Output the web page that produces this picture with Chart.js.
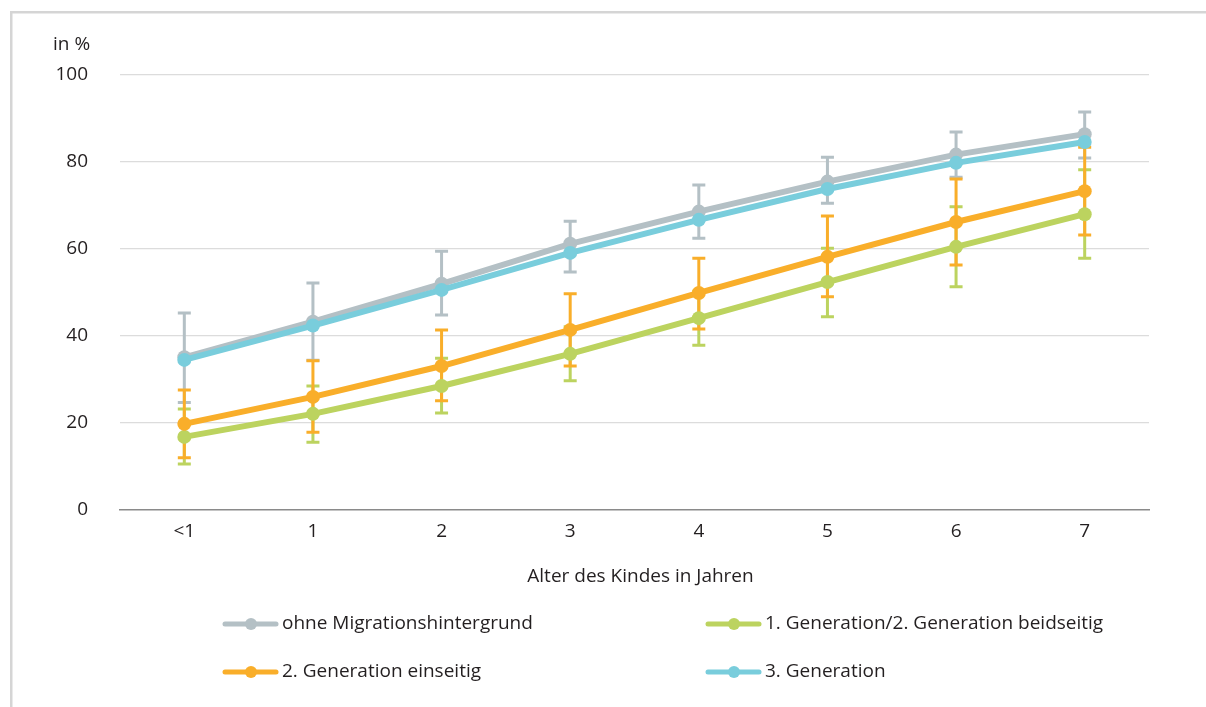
<!DOCTYPE html>
<html>
<head>
<meta charset="utf-8">
<script src="https://cdn.jsdelivr.net/npm/chart.js@4/dist/chart.umd.min.js"></script>
<style>
  html, body { margin: 0; padding: 0; background: #fff; }
  #wrap { position: relative; width: 1206px; height: 707px; }
  canvas { display: block; }
</style>
</head>
<body>
<div id="wrap"><canvas id="c" width="1206" height="707"></canvas></div>
<script>
// ---- data ----
const categories = ['<1', '1', '2', '3', '4', '5', '6', '7'];
const yTicks = [0, 20, 40, 60, 80, 100];

const ohneLabel = 'ohne Migrationshintergrund';
const ohneValues = [35.1, 43.3, 52.0, 61.2, 68.6, 75.5, 81.7, 86.4];
const ohneLow    = [24.7, 34.4, 44.8, 54.7, 62.5, 70.5, 76.5, 80.9];
const ohneHigh   = [45.3, 52.2, 59.5, 66.4, 74.7, 81.1, 86.9, 91.5];

const gen1Label = '1. Generation/2. Generation beidseitig';
const gen1Values = [16.8, 22.1, 28.5, 35.9, 44.1, 52.4, 60.5, 68.0];
const gen1Low    = [10.6, 15.6, 22.3, 29.7, 37.9, 44.4, 51.3, 57.9];
const gen1High   = [23.2, 28.5, 34.9, 42.1, 50.3, 60.2, 69.7, 78.2];

const gen2Label = '2. Generation einseitig';
const gen2Values = [19.8, 26.0, 33.1, 41.4, 49.9, 58.2, 66.2, 73.3];
const gen2Low    = [12.0, 17.9, 25.1, 33.1, 41.6, 49.0, 56.3, 63.2];
const gen2High   = [27.6, 34.3, 41.4, 49.7, 57.9, 67.6, 76.1, 83.4];

const gen3Label = '3. Generation';
const gen3Values = [34.5, 42.4, 50.6, 59.1, 66.7, 73.8, 79.8, 84.6];

const yUnit = 'in %';
const xTitle = 'Alter des Kindes in Jahren';

// ---- styles ----
const FONT = "'Open Sans', 'Noto Sans', sans-serif";
const FS = 19;
const TEXT = '#231f20';
const cGray = '#b4c0c5', cGreen = '#bcd35f', cOrange = '#f9ae2a', cBlue = '#79cddc';

function ds(label, data, color, order, low, high) {
  return {
    label, data, order,
    borderColor: color, backgroundColor: color,
    pointBackgroundColor: color, pointBorderWidth: 0,
    pointRadius: 7, pointHoverRadius: 7,
    borderWidth: 6, tension: 0, fill: false,
    errLow: low, errHigh: high
  };
}

const datasets = [
  ds(ohneLabel, ohneValues, cGray, 1, ohneLow, ohneHigh),
  ds(gen1Label, gen1Values, cGreen, 3, gen1Low, gen1High),
  ds(gen2Label, gen2Values, cOrange, 2, gen2Low, gen2High),
  ds(gen3Label, gen3Values, cBlue, 0, null, null)
];

// error bars drawn below lines: gray, green, orange (orange on top)
const errorBarPlugin = {
  id: 'errorBars',
  beforeDatasetsDraw(chart) {
    const ctx = chart.ctx, x = chart.scales.x, y = chart.scales.y;
    [0, 1, 2].forEach(di => {
      const d = chart.data.datasets[di];
      if (!d.errLow) return;
      ctx.save();
      ctx.strokeStyle = d.borderColor;
      ctx.lineWidth = 3;
      ctx.lineCap = 'butt';
      d.data.forEach((v, i) => {
        const px = x.getPixelForValue(i);
        const y1 = y.getPixelForValue(d.errLow[i]);
        const y2 = y.getPixelForValue(d.errHigh[i]);
        ctx.beginPath();
        ctx.moveTo(px, y1); ctx.lineTo(px, y2);
        ctx.moveTo(px - 6.5, y1); ctx.lineTo(px + 6.5, y1);
        ctx.moveTo(px - 6.5, y2); ctx.lineTo(px + 6.5, y2);
        ctx.stroke();
      });
      ctx.restore();
    });
  }
};

const decorPlugin = {
  id: 'decor',
  beforeDraw(chart) {
    const ctx = chart.ctx;
    ctx.save();
    ctx.fillStyle = '#fff';
    ctx.fillRect(0, 0, chart.width, chart.height);
    ctx.fillStyle = '#d5d5d5';
    ctx.fillRect(10, 11, chart.width - 10, 2.5);
    ctx.fillRect(10, 11, 2.5, chart.height - 11);
    ctx.restore();
  },
  afterDraw(chart) {
    const ctx = chart.ctx, area = chart.chartArea;
    ctx.save();
    ctx.fillStyle = TEXT;
    ctx.font = FS + 'px ' + FONT;
    ctx.textBaseline = 'middle';
    ctx.textAlign = 'left';
    ctx.fillText(yUnit, 53, 45);
    ctx.textAlign = 'center';
    ctx.fillText(xTitle, (area.left + area.right) / 2 + 6, 577);

    // legend
    const pos = [[223, 624], [706, 624], [223, 672], [706, 672]];
    chart.data.datasets.forEach((d, i) => {
      const [lx, ly] = pos[i];
      ctx.strokeStyle = d.borderColor;
      ctx.lineWidth = 5;
      ctx.lineCap = 'round';
      ctx.beginPath();
      ctx.moveTo(lx + 2, ly); ctx.lineTo(lx + 53, ly);
      ctx.stroke();
      ctx.fillStyle = d.borderColor;
      ctx.beginPath();
      ctx.arc(lx + 28, ly, 6, 0, Math.PI * 2);
      ctx.fill();
      ctx.fillStyle = TEXT;
      ctx.textAlign = 'left';
      ctx.font = FS + 'px ' + FONT;
      ctx.fillText(d.label, lx + 59, ly);
    });
    ctx.restore();
  }
};

new Chart(document.getElementById('c'), {
  type: 'line',
  data: { labels: categories, datasets },
  plugins: [decorPlugin, errorBarPlugin],
  options: {
    responsive: false,
    animation: false,
    events: [],
    layout: { padding: { left: 20, top: 75, right: 57, bottom: 0 } },
    plugins: { legend: { display: false }, tooltip: { enabled: false } },
    scales: {
      x: {
        type: 'category',
        offset: true,
        afterFit(scale) { scale.height = 197; },
        grid: { display: false, drawTicks: false },
        border: { display: true, color: '#8a8a8a', width: 1.5 },
        ticks: { color: TEXT, font: { family: FONT, size: FS }, padding: 10, maxRotation: 0 }
      },
      y: {
        min: 0, max: 100,
        afterFit(scale) { scale.width = 100; },
        afterBuildTicks(scale) { scale.ticks = yTicks.map(v => ({ value: v })); },
        grid: {
          drawTicks: false,
          color: ctx => ctx.tick && ctx.tick.value === 0 ? 'rgba(0,0,0,0)' : '#dcdcdc',
          lineWidth: 1.2
        },
        border: { display: false },
        ticks: { color: TEXT, font: { family: FONT, size: FS }, padding: 32 }
      }
    }
  }
});
</script>
</body>
</html>
